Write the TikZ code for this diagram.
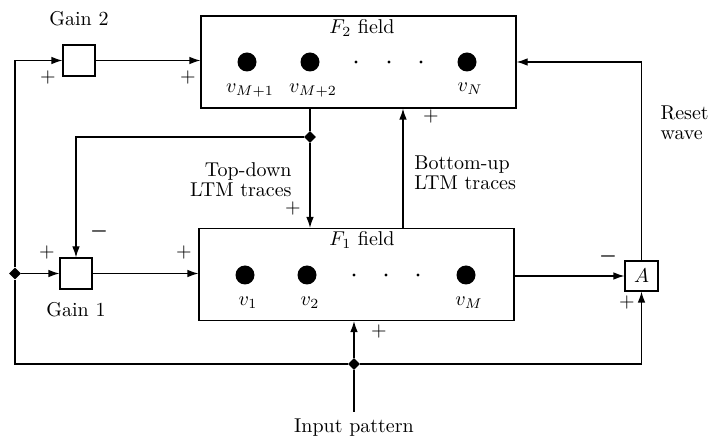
\documentclass[tikz,border=0pt]{standalone}
\usepackage{amsmath}
\usetikzlibrary{arrows.meta,calc,positioning,shapes.geometric}
\begin{document}
\begin{tikzpicture}[
  x=0.5pt, y=-0.5pt,
  field/.style={draw, line width=0.6pt, minimum width=157.5pt, minimum height=46pt, inner sep=0pt},
  box/.style={draw, line width=0.6pt, minimum width=16pt, minimum height=15.5pt, inner sep=0pt},
  cell/.style={circle, fill, minimum size=9.5pt, inner sep=0pt},
  pnt/.style={circle, fill, minimum size=1.6pt, inner sep=0pt},
  junc/.style={diamond, fill, minimum size=6pt, inner sep=0pt},
  arr/.style={-{Latex[length=5.5pt,width=3.8pt]}, line width=0.6pt},
  lin/.style={line width=0.6pt},
  sgn/.style={inner sep=0pt},
  txt/.style={inner sep=0pt, font=\fontsize{10}{10}\selectfont}
]
\useasboundingbox (0,0) rectangle (713,438);
% fields
\node[field] (f2) at (358.5,62) {};
\node[field] (f1) at (356.5,274.5) {};
\node[txt] at (362,28) {$F_2$ field};
\node[txt] at (362,240) {$F_1$ field};
\foreach \x/\n/\y in {247/{v_{M+1}}/91, 310/{v_{M+2}}/91, 467/{v_N}/89} {
  \node[cell] at (\x,62) {};
  \node[txt] at (\x+3,\y) {$\n$};
}
\foreach \x in {356,389,421} \node[pnt] at (\x,62) {};
\foreach \x/\n in {245/{v_1}, 307/{v_2}, 466/{v_M}} {
  \node[cell] at (\x,275) {};
  \node[txt] at (\x+3,303) {$\n$};
}
\foreach \x in {354,386,418} \node[pnt] at (\x,275) {};
% gains and A
\node[box] (g2) at (79,60.5) {};
\node[txt, above=9pt of g2] {Gain 2};
\node[box] (g1) at (76,273.5) {};
\node[txt, below=6pt of g1] {Gain 1};
\node[box, minimum width=16.5pt, minimum height=15pt] (a) at (641.5,276) {$A$};
% junctions
\node[junc] (jtd) at (310,137) {};
\node[junc] (jin) at (354,364) {};
\node[junc] (jl) at (15,273.5) {};
\coordinate (inp) at (354,412);
\coordinate (bu) at (403,200);
% connectors
\draw[arr] (g2) -- (g2 -| f2.west);
\draw[arr] (g1) -- (g1 -| f1.west);
\draw[lin] (f2.south -| jtd) -- (jtd);
\draw[arr] (jtd) -- (f1.north -| jtd);
\draw[arr] (jtd) -| (g1.north);
\draw[arr] (f1.north -| bu) -- (f2.south -| bu);
\draw[lin] (inp) -- (jin);
\draw[arr] (jin) -- (f1.south -| jin);
\draw[lin] (jin) -| (jl);
\draw[arr] (jl) |- (g2.west);
\draw[arr] (jl) -- (g1.west);
\draw[arr] (jin) -| (a.south);
\draw[arr] (a.west -| f1.east) -- (a.west);
\draw[arr] (a.north) |- (f2.east);
% labels
\node[txt, align=right, anchor=east] at (292,180) {Top-down\\LTM traces};
\node[txt, align=left, anchor=west] at (414,173) {Bottom-up\\LTM traces};
\node[txt, align=left, anchor=east] at (711,123) {Reset\\wave\hphantom{t}};
\node[txt] at (354,428) {Input pattern};
% signs
\foreach \x/\y in {48/78, 188/78, 47/253, 184/253, 293/209, 431/117, 379/332, 627/303}
  \node[sgn] at (\x,\y) {$+$};
\foreach \x/\y in {99/232, 608/257}
  \node[sgn] at (\x,\y) {$\boldsymbol{-}$};
\end{tikzpicture}
\end{document}
